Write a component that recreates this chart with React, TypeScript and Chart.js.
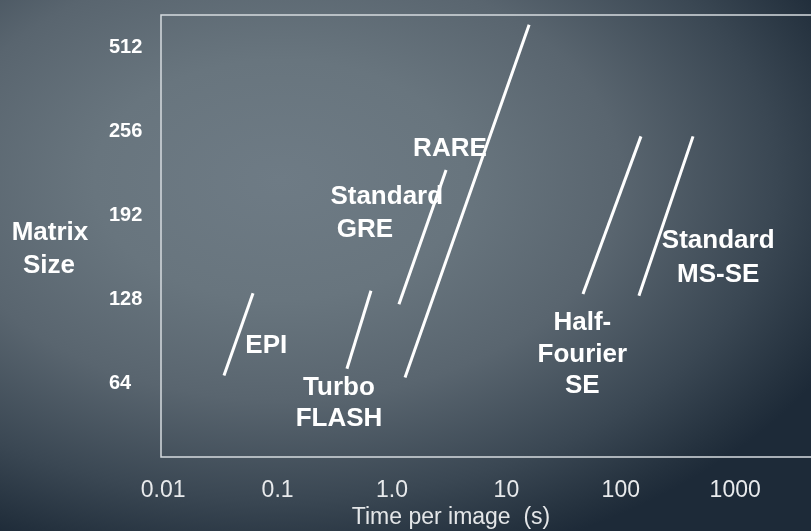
import React, { useEffect, useRef } from "react";
import { Chart, registerables } from "chart.js";

Chart.register(...registerables);

// Y axis categories (matrix size), drawn at index positions 0..4
const matrixSizes = ["64", "128", "192", "256", "512"];
// X axis (time per image, s) log ticks
const timeTicks = [0.01, 0.1, 1, 10, 100, 1000];
const timeTickLabels = ["0.01", "0.1", "1.0", "10", "100", "1000"];

// Each sequence is a straight segment from (timeStart, sizeStart) to (timeEnd, sizeEnd)
const sequences = ["EPI", "Turbo FLASH", "Standard GRE", "RARE", "Half-Fourier SE", "Standard MS-SE"];
const timeStart = [0.034, 0.404, 1.15, 1.3, 46.7, 144];
const timeEnd = [0.061, 0.655, 2.97, 15.8, 150, 428];
const sizeStart = [0.09, 0.17, 0.94, 0.065, 1.06, 1.04];
const sizeEnd = [1.07, 1.1, 2.54, 4.27, 2.94, 2.94];

// Annotation text lines anchored in data coordinates
const labelLines = ["EPI", "Turbo", "FLASH", "Standard", "GRE", "RARE", "Half-", "Fourier", "SE", "Standard", "MS-SE"];
const labelTime = [0.0797, 0.344, 0.344, 0.9, 0.58, 3.21, 46.1, 46.1, 46.1, 710, 710];
const labelSize = [0.444, -0.059, -0.43, 2.22, 1.824, 2.789, 0.722, 0.335, -0.033, 1.693, 1.293];

const yTitleLines = ["Matrix", "Size"];
const xTitle = "Time per image  (s)";

const FONT = "'Liberation Sans', Arial, Helvetica, sans-serif";

const overlayPlugin = {
  id: "overlay",
  beforeDatasetsDraw(chart: any) {
    const { ctx, chartArea: a, width, scales } = chart;
    const x = scales.x;
    const y = scales.y;
    ctx.save();
    // frame (open on the right, runs to canvas edge)
    ctx.strokeStyle = "#d6dbdf";
    ctx.lineWidth = 1.5;
    ctx.beginPath();
    ctx.moveTo(width, a.top);
    ctx.lineTo(a.left, a.top);
    ctx.lineTo(a.left, a.bottom);
    ctx.lineTo(width, a.bottom);
    ctx.stroke();

    // annotations
    ctx.fillStyle = "#ffffff";
    ctx.font = `bold 26px ${FONT}`;
    ctx.textAlign = "center";
    ctx.textBaseline = "middle";
    labelLines.forEach((t, i) => {
      ctx.fillText(t, x.getPixelForValue(labelTime[i]), y.getPixelForValue(labelSize[i]));
    });

    // y title (horizontal, two lines)
    ctx.fillText(yTitleLines[0], 50, 233);
    ctx.fillText(yTitleLines[1], 49, 266);

    // x title
    ctx.fillStyle = "#e4e6e8";
    ctx.font = `23px ${FONT}`;
    ctx.textBaseline = "alphabetic";
    ctx.fillText(xTitle, 451, 524);
    ctx.restore();
  },
};

export default function App() {
  const canvasRef = useRef<HTMLCanvasElement | null>(null);

  useEffect(() => {
    const canvas = canvasRef.current;
    if (!canvas) return;
    const datasets = sequences.map((name, i) => ({
      label: name,
      data: [
        { x: timeStart[i], y: sizeStart[i] },
        { x: timeEnd[i], y: sizeEnd[i] },
      ],
      showLine: true,
      borderColor: "#ffffff",
      borderWidth: 3,
      pointRadius: 0,
      pointHoverRadius: 0,
      borderCapStyle: "butt",
    }));

    const chart = new Chart(canvas, {
      type: "scatter",
      data: { datasets },
      plugins: [overlayPlugin],
      options: {
        animation: false,
        responsive: false,
        events: [],
        layout: { padding: { top: 12, left: 109, right: 0, bottom: 0 } },
        plugins: {
          legend: { display: false },
          tooltip: { enabled: false },
        },
        scales: {
          x: {
            type: "logarithmic",
            min: 0.00957,
            max: 4598,
            grid: { display: false },
            border: { display: false },
            afterBuildTicks: (s: any) => {
              s.ticks = timeTicks.map((v) => ({ value: v }));
            },
            afterFit: (s: any) => {
              s.height = 74;
            },
            ticks: {
              autoSkip: false,
              maxRotation: 0,
              minRotation: 0,
              padding: 12,
              color: "#e8eaec",
              font: { family: FONT, size: 23 },
              callback: (_v: any, idx: number) => timeTickLabels[idx],
            },
          },
          y: {
            type: "linear",
            min: -0.882,
            max: 4.387,
            grid: { display: false },
            border: { display: false },
            afterBuildTicks: (s: any) => {
              s.ticks = matrixSizes.map((_, i) => ({ value: i }));
            },
            afterFit: (s: any) => {
              s.width = 52;
            },
            ticks: {
              autoSkip: false,
              crossAlign: "far",
              color: "#ffffff",
              font: { family: FONT, size: 20, weight: "bold" },
              callback: (_v: any, idx: number) => matrixSizes[idx],
            },
          },
        },
      } as any,
    });
    return () => chart.destroy();
  }, []);

  return (
    <div
      style={{
        position: "fixed",
        left: 0,
        top: 0,
        width: 811,
        height: 531,
        overflow: "hidden",
        background:
          "radial-gradient(ellipse 620px 400px at 280px 180px, #6e7b85 0%, #68757e 30%, #59656f 55%, #3a4753 80%, #24313e 95%, #1d2a38 100%)",
      }}
    >
      <canvas ref={canvasRef} width={811} height={531} style={{ display: "block" }} />
    </div>
  );
}
